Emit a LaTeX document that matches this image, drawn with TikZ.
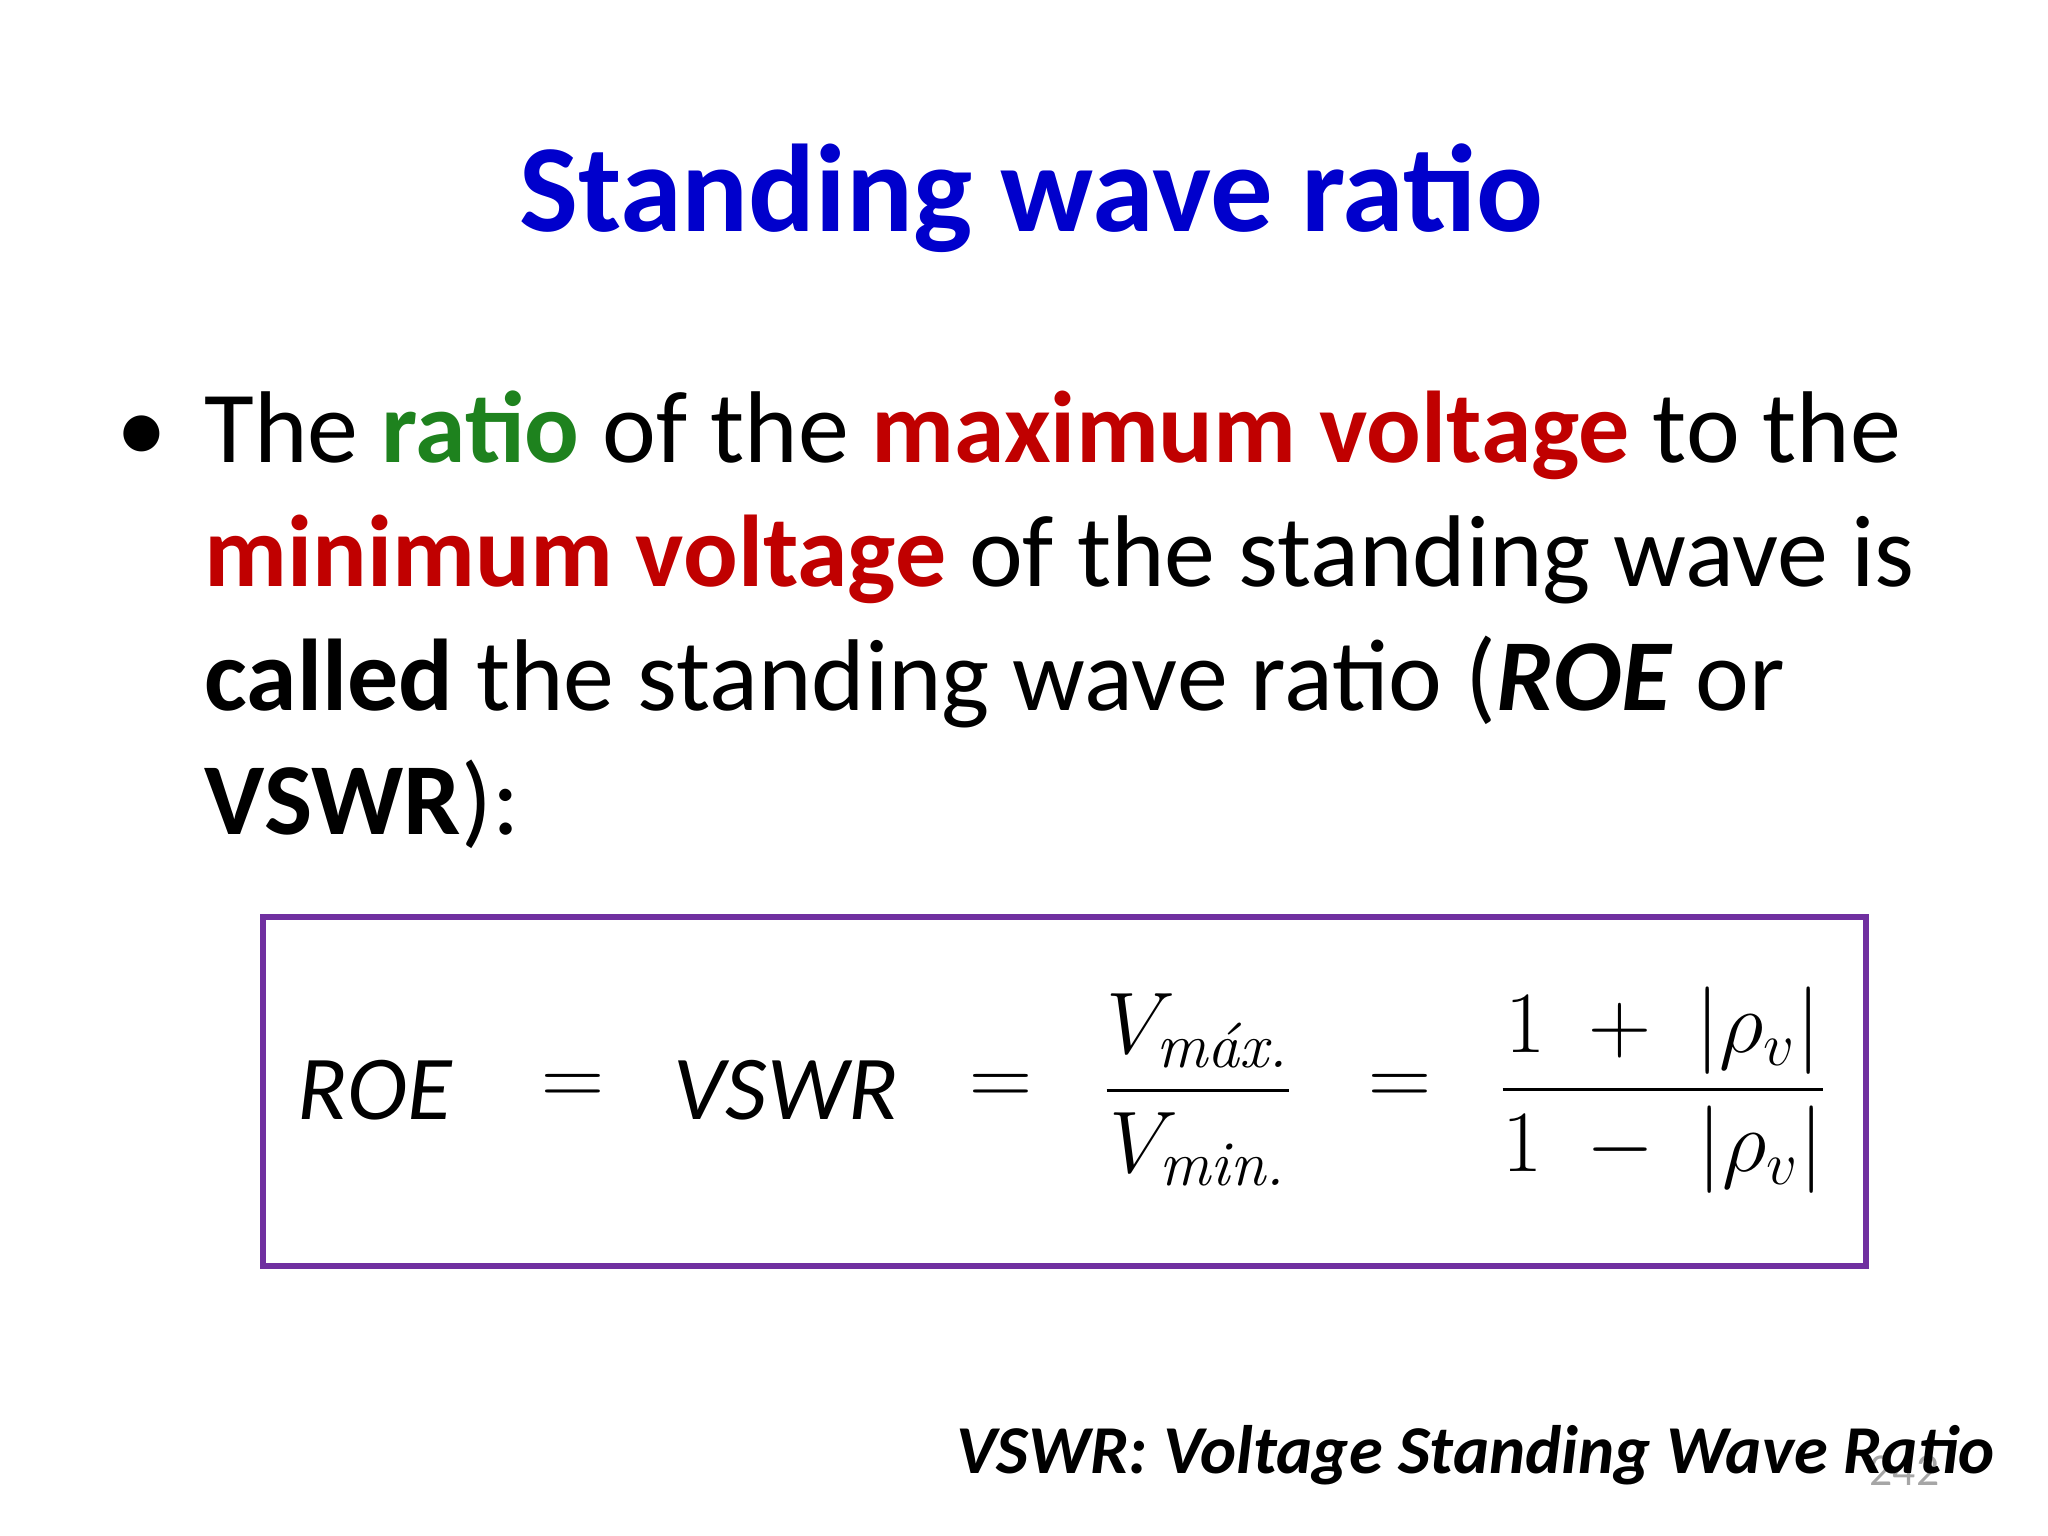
\documentclass[tikz,border=0pt]{standalone}
\usepackage{amsmath}
\usepackage{fontspec}
\setmainfont{Carlito}
\newfontfamily\lmr{Latin Modern Roman}
\definecolor{tblue}{RGB}{0,0,204}
\definecolor{tgreen}{RGB}{30,130,30}
\definecolor{tred}{RGB}{192,0,0}
\definecolor{tpurple}{RGB}{112,48,160}
\begin{document}
\begin{tikzpicture}[x=1cm,y=1cm,
  line/.style={anchor=base west,inner sep=0pt,font=\fontsize{29}{35}\selectfont},
  fm/.style={font=\fontsize{26}{30}\selectfont,inner sep=0pt}]
\useasboundingbox (0,0) rectangle (20.48,15.36);
\node[font=\fontsize{35.5}{42}\selectfont\bfseries,text=tblue] (title) at (10.31,13.38) {Standing wave ratio};
\node[line,anchor=base] (bul) at (1.42,10.73) {•};
\node[line] (l1) at (2.04,10.73) {The \textcolor{tgreen}{\textbf{ratio}} of the \textcolor{tred}{\textbf{maximum voltage}} to the};
\node[line] (l2) at (2.04,9.49) {\textcolor{tred}{\textbf{minimum voltage}} of the standing wave is};
\node[line] (l3) at (2.04,8.25) {\textbf{called} the standing wave ratio (\textbf{\textit{ROE}} or};
\node[line] (l4) at (2.04,7.01) {\textbf{VSWR}):};
\draw[tpurple,line width=1.6pt] (2.63,6.19) rectangle (18.66,2.70);
\node[fm] (roe) at (3.75,4.46) {$\mathit{ROE}$};
\node[fm] (e1) at (5.73,4.46) {$=$};
\node[fm] (vs) at (7.86,4.46) {$\mathit{VSWR}$};
\node[fm] (e2) at (10.01,4.46) {$=$};
\node[fm] (f1) at (11.98,4.46) {$\dfrac{V_{\text{\lmr\itshape máx.}}}{V_{\text{\lmr\itshape min.}}}$};
\node[fm] (e3) at (14.00,4.46) {$=$};
\node[fm] (f2) at (16.63,4.46) {$\dfrac{1\;+\;|\rho_v|}{1\;-\;|\rho_v|}$};
\node[anchor=base east,inner sep=0pt,text=gray!70,font=\fontsize{13}{15}\selectfont] (pg) at (19.40,0.50) {242};
\node[anchor=base east,inner sep=0pt,font=\fontsize{19.5}{24}\selectfont\bfseries\itshape] (foot) at (19.95,0.62) {VSWR: Voltage Standing Wave Ratio};
\end{tikzpicture}
\end{document}
